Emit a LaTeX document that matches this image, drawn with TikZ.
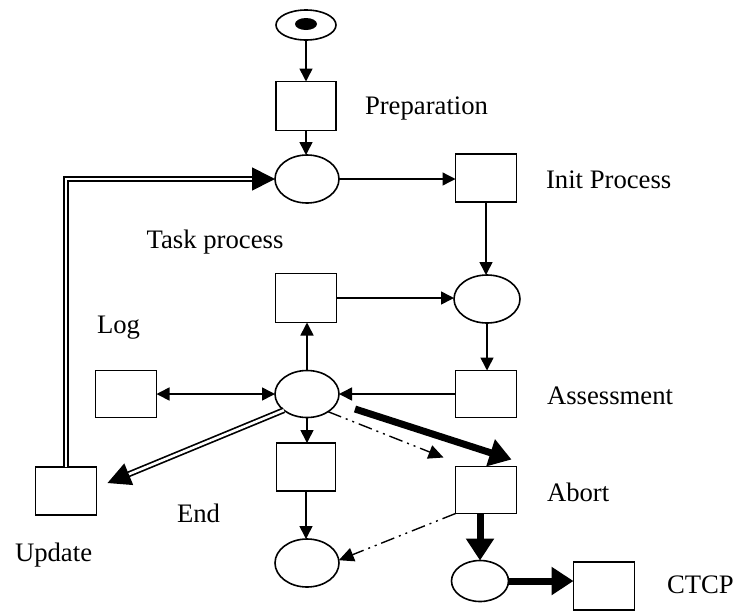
\documentclass[tikz,border=0pt]{standalone}
\usepackage{fontspec}
\setmainfont{Liberation Serif}
\usetikzlibrary{arrows.meta,shapes.geometric,calc}
\begin{document}
\begin{tikzpicture}[x=1pt,y=-1pt,
 every node/.style={inner sep=0pt,outer sep=0pt},
 trans/.style={draw,line width=1.6pt,rectangle,minimum width=61pt,minimum height=48pt},
 place/.style={draw,line width=1.6pt,ellipse,minimum width=64pt,minimum height=48pt},
 lbl/.style={anchor=west,font=\fontsize{26.7}{30}\selectfont},
 arr/.style={line width=1.6pt,-{Triangle[length=13pt,width=13pt]}},
 darr/.style={line width=1.6pt,{Triangle[length=13pt,width=13pt]}-{Triangle[length=13pt,width=13pt]}},
 thk/.style={line width=7pt,-{Triangle[length=22pt,width=27pt]}},
 dbl/.style={double,double distance=2.6pt,line width=1.7pt},
 dda/.style={dbl,-{Triangle[length=23pt,width=23pt]}},
 dd/.style={line width=1.4pt,dash pattern=on 14pt off 5pt on 2pt off 5pt on 2pt off 5pt,-{Triangle[length=15pt,width=14pt]}}
]
\useasboundingbox (0,0) rectangle (738,611);
% places and transitions
\node[place,minimum width=60pt,minimum height=30pt] (p0) at (306,25) {};
\node[fill,ellipse,minimum width=22pt,minimum height=12pt] (tok) at (306,24) {};
\node[trans,minimum width=60pt,minimum height=49pt] (prep) at (306,106) {};
\node[place] (p1) at (307,179) {};
\node[trans] (init) at (486,178) {};
\node[place,minimum width=66pt] (p2) at (487,299) {};
\node[trans,minimum height=49pt] (task) at (306,298) {};
\node[place,minimum height=47pt] (pc) at (307,394) {};
\node[trans,minimum height=47pt] (log) at (126,394) {};
\node[trans,minimum height=47pt] (assess) at (486,394) {};
\node[trans,minimum height=47pt] (abort) at (486,490) {};
\node[trans,minimum width=59pt] (endt) at (306,467) {};
\node[place] (pend) at (307,563) {};
\node[trans] (upd) at (66,491) {};
\node[place,minimum width=57pt,minimum height=41pt] (pab) at (480,581) {};
\node[trans] (ctcp) at (604,586) {};
% labels
\node[lbl] (lprep) at (365,108) {Preparation};
\node[lbl] (linit) at (546,180) {Init Process};
\node[lbl,anchor=center] (ltask) at (215,242) {Task process};
\node[lbl] (llog) at (97,328) {Log};
\node[lbl] (lass) at (547,396) {Assessment};
\node[lbl] (labort) at (547,492) {Abort};
\node[lbl] (lend) at (177,513) {End};
\node[lbl] (lupd) at (15,555) {Update};
\node[lbl] (lctcp) at (667,585) {CTCP};
% helper coordinates
\coordinate (thkS) at ($(pc)+(48,15)$);
\coordinate (thkE) at ($(abort.north east)+(-5,-7)$);
\coordinate (ddS) at (pc.-40);
\coordinate (ddE) at ($(abort.north west)+(-12,-9)$);
\coordinate (updT) at ($(upd.east)+(11,-8)$);
\coordinate (pcL) at (pc.-145);
% connectors
\draw[arr] (p0.south) -- (p0.south |- prep.north);
\draw[arr] (prep.south) -- (prep.south |- p1.north);
\draw[arr,line width=1.3pt] (p1.east) -- (p1.east -| init.west);
\draw[arr] (init.south) -- (init.south |- p2.north);
\draw[arr] (task.east) -- (task.east -| p2.west);
\draw[arr] (pc.north) -- (pc.north |- task.south);
\draw[darr] (log.east) -- (pc.west);
\draw[arr] (p2.south) -- (p2.south |- assess.north);
\draw[arr] (assess.west) -- (pc.east);
\draw[arr] (pc.south) -- (pc.south |- endt.north);
\draw[arr] (endt.south) -- (endt.south |- pend.north);
\draw[thk] (thkS) -- (thkE);
\draw[dd] (ddS) -- (ddE);
\draw[dd] (abort.south west) -- (pend.5);
\draw[dda] (pcL) -- (updT);
\draw[dda] (upd.north) |- (p1.west);
\draw[thk] (abort.south -| pab.north) -- (pab.north);
\draw[thk] (pab.east) -- (pab.east -| ctcp.west);
\end{tikzpicture}
\end{document}
